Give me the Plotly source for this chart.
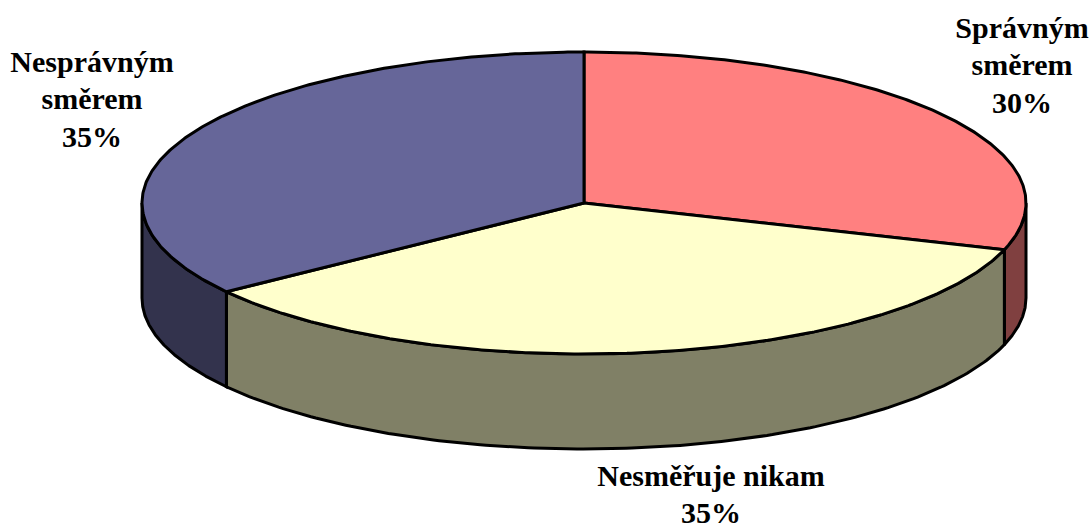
import numpy as np
import plotly.graph_objects as go

categories = ["Správným|směrem", "Nesměřuje nikam", "Nesprávným|směrem"]
values = [30, 35, 35]
top_colors = ["#FF8080", "#FFFFCC", "#666699"]
side_colors = ["#804040", "#808066", "#33334D"]
label_x = [1022, 711, 92]
label_top_y = [30.5, 478, 64.5]
LINE_STEP = 37.3

CX, CY, RX, RY, DEPTH = 584, 203, 442, 151, 95
OUT = "black"
LW = 3


def pt(frac):
    a = 2 * np.pi * np.asarray(frac)
    return CX + RX * np.sin(a), CY - RY * np.cos(a)


fig = go.Figure()
edges = np.cumsum([0] + values) / sum(values)

# side walls: only the visible front half of the ellipse
for i in range(len(values)):
    a0, a1 = max(edges[i], 0.25), min(edges[i + 1], 0.75)
    if a1 <= a0:
        continue
    t = np.linspace(a0, a1, 160)
    x, y = pt(t)
    fig.add_trace(go.Scatter(
        x=np.r_[x, x[::-1], x[0]], y=np.r_[y, y[::-1] + DEPTH, y[0]],
        mode="lines", fill="toself", fillcolor=side_colors[i],
        line=dict(color=OUT, width=LW), hoverinfo="skip", showlegend=False))

# top faces
for i in range(len(values)):
    t = np.linspace(edges[i], edges[i + 1], 240)
    x, y = pt(t)
    fig.add_trace(go.Scatter(
        x=np.r_[CX, x, CX], y=np.r_[CY, y, CY],
        mode="lines", fill="toself", fillcolor=top_colors[i],
        line=dict(color=OUT, width=LW), hoverinfo="skip", showlegend=False))

# labels, one text per line so the line spacing can follow the reference
for c, v, lx, ly in zip(categories, values, label_x, label_top_y):
    lines = c.split("|") + [f"{v}%"]
    fig.add_trace(go.Scatter(
        x=[lx] * len(lines), y=[ly + k * LINE_STEP for k in range(len(lines))],
        mode="text", text=[f"<b>{s}</b>" for s in lines],
        textposition="middle center", cliponaxis=False,
        textfont=dict(family="Liberation Serif", size=30, color="black"),
        hoverinfo="skip", showlegend=False))

fig.update_layout(
    width=1090, height=526, autosize=False,
    margin=dict(l=0, r=0, t=0, b=0),
    paper_bgcolor="white", plot_bgcolor="white",
    xaxis=dict(range=[0, 1090], visible=False, fixedrange=True),
    yaxis=dict(range=[526, 0], visible=False, fixedrange=True),
)
fig.write_html("out.html", config={"displayModeBar": False},
               post_script="document.body.style.margin='0';document.documentElement.style.overflow='hidden';")
